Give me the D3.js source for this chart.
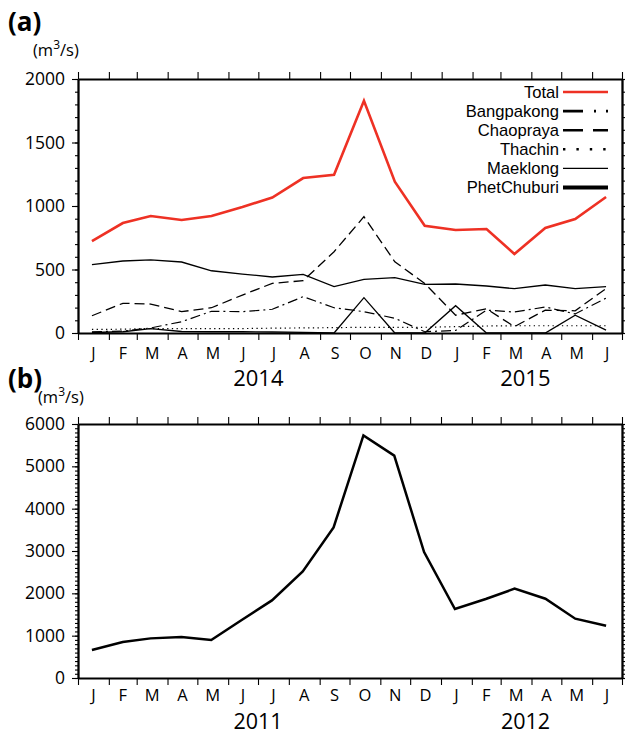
<!DOCTYPE html>
<html>
<head>
<meta charset="utf-8">
<script src="https://cdn.jsdelivr.net/npm/d3@7/dist/d3.min.js"></script>
<style>
body { margin: 0; background: #fff; }
svg { display: block; font-family: "Open Sans", sans-serif; }
</style>
</head>
<body>
<svg id="fig" width="625" height="734"></svg>
<script>
'use strict';

// panel (a): monthly discharge by river, Jan 2014 - Jun 2015 (m3/s)
var monthsA = ['2014-01','2014-02','2014-03','2014-04','2014-05','2014-06','2014-07','2014-08','2014-09',
               '2014-10','2014-11','2014-12','2015-01','2015-02','2015-03','2015-04','2015-05','2015-06'];
var total       = [724, 866, 921, 890, 921, 992, 1067, 1220, 1246, 1829, 1191, 845, 811, 819, 622, 827, 898, 1071];
var bangpakong  = [10, 15, 40, 89, 171, 168, 187, 286, 199, 168, 116, 10, 20, 180, 165, 205, 150, 275];
var chaopraya   = [136, 234, 228, 168, 199, 299, 391, 412, 640, 916, 561, 390, 140, 190, 50, 180, 175, 350];
var thachin     = [28, 30, 35, 35, 35, 35, 38, 40, 42, 45, 45, 45, 50, 55, 57, 57, 57, 57];
var maeklong    = [538, 567, 575, 559, 490, 464, 441, 462, 365, 423, 436, 383, 386, 370, 349, 378, 349, 365];
var phetchuburi = [4, 10, 35, 12, 10, 10, 8, 5, 0, 278, 0, 0, 215, 0, 0, 0, 140, 22];
var yearsA      = [['2014', '2014-07-01'], ['2015', '2015-03-26']];

// panel (b): Chaopraya discharge, Jan 2011 - Jun 2012 (m3/s)
var monthsB  = ['2011-01','2011-02','2011-03','2011-04','2011-05','2011-06','2011-07','2011-08','2011-09',
                '2011-10','2011-11','2011-12','2012-01','2012-02','2012-03','2012-04','2012-05','2012-06'];
var flow2011 = [661, 850, 936, 968, 898, 1377, 1833, 2518, 3558, 5731, 5252, 2976, 1630, 1866, 2110, 1873, 1401, 1236];
var yearsB   = [['2011', '2011-07-01'], ['2012', '2012-03-26']];

var seriesNames = ['Total', 'Bangpakong', 'Chaopraya', 'Thachin', 'Maeklong', 'PhetChuburi'];
var seriesA = [total, bangpakong, chaopraya, thachin, maeklong, phetchuburi];

// line looks: in the plot, and in the legend swatch
var styles = {
    Total:       { color: '#ee3124', width: 2.6, dash: null,        lw: 2.6, ldash: null },
    Bangpakong:  { color: '#000',    width: 1.2, dash: '10,4,2,4',  lw: 2.6, ldash: '20,11,2,10,2,10' },
    Chaopraya:   { color: '#000',    width: 1.3, dash: '10,5',      lw: 2.6, ldash: '20,10' },
    Thachin:     { color: '#000',    width: 1.2, dash: '1.3,3.4',   lw: 2.4, ldash: '2.4,11' },
    Maeklong:    { color: '#000',    width: 1.3, dash: null,        lw: 1.3, ldash: null },
    PhetChuburi: { color: '#000',    width: 1.3, dash: null,        lw: 4.2, ldash: null }
};

var parseMonth = d3.utcParse('%Y-%m');
var parseDay = d3.utcParse('%Y-%m-%d');
function midMonth(s) { return d3.utcDay.offset(parseMonth(s), 14); }

function panel() {
    var top = 0, bottom = 0, yMax = 0, yMajor = 500, monthSize = 16, yearSize = 22,
        monthY = 26, yearY = 53, years = [];

    function display(selection) {
        selection.each(function (data) {
            var g = d3.select(this);
            var first = parseMonth(data.months[0]);
            var last = d3.utcMonth.offset(parseMonth(data.months[data.months.length - 1]), 1);
            var x = d3.scaleUtc().domain([first, last]).range([78, 622]);
            var y = d3.scaleLinear().domain([0, yMax]).range([bottom, top]);
            var monthTicks = d3.utcMonth.range(first, d3.utcDay.offset(last, 1));
            var major = d3.range(0, yMax + 1, yMajor);
            var minor = d3.range(0, yMax + 1, 100);

            function frame(sel) {
                sel.selectAll('.domain').attr('stroke-width', 1.8);
                sel.selectAll('.tick line').attr('stroke-width', 1.1);
                sel.selectAll('.tick text').attr('fill', '#000')
                    .style('font-size', '17.5px').style('font-family', '"Open Sans", sans-serif');
            }

            g.append('g').attr('transform', 'translate(0,' + bottom + ')')
                .call(d3.axisBottom(x).tickValues(monthTicks).tickFormat('').tickSize(7).tickSizeOuter(0))
                .call(frame);
            g.append('g').attr('transform', 'translate(0,' + top + ')')
                .call(d3.axisTop(x).tickValues(monthTicks).tickFormat('').tickSize(7).tickSizeOuter(0))
                .call(frame);
            g.append('g').attr('transform', 'translate(78,0)')
                .call(d3.axisLeft(y).tickValues(minor).tickFormat('').tickSize(3).tickSizeOuter(0))
                .call(frame);
            g.append('g').attr('transform', 'translate(78,0)')
                .call(d3.axisLeft(y).tickValues(major).tickFormat(d3.format('d'))
                    .tickSize(6).tickPadding(7).tickSizeOuter(0))
                .call(frame);
            g.append('g').attr('transform', 'translate(622,0)')
                .call(d3.axisRight(y).tickValues(minor).tickFormat('').tickSize(3).tickSizeOuter(0))
                .call(frame);
            g.append('g').attr('transform', 'translate(622,0)')
                .call(d3.axisRight(y).tickValues(major).tickFormat('').tickSize(6).tickSizeOuter(0))
                .call(frame);

            // month initials centred in each month
            g.append('g').selectAll('text')
                .data(data.months)
                .enter().append('text')
                .attr('x', function (m) {
                    var d = parseMonth(m);
                    return (x(d) + x(d3.utcMonth.offset(d, 1))) / 2;
                })
                .attr('y', bottom + monthY)
                .attr('text-anchor', 'middle')
                .style('font-size', monthSize + 'px')
                .text(function (m) { return d3.utcFormat('%b')(parseMonth(m)).charAt(0); });

            g.append('g').selectAll('text')
                .data(years)
                .enter().append('text')
                .attr('x', function (d) { return x(parseDay(d[1])); })
                .attr('y', bottom + yearY)
                .attr('text-anchor', 'middle')
                .style('font-size', yearSize + 'px')
                .text(function (d) { return d[0]; });

            var line = d3.line()
                .x(function (v, i) { return x(midMonth(data.months[i])); })
                .y(function (v) { return y(v); });

            g.append('g').selectAll('path')
                .data(data.series.slice().reverse())
                .enter().append('path')
                .attr('d', function (s) { return line(s.values); })
                .attr('fill', 'none')
                .attr('stroke', function (s) { return s.color; })
                .attr('stroke-width', function (s) { return s.width; })
                .attr('stroke-dasharray', function (s) { return s.dash; });
        });
    }

    display.top = function (v) { top = v; return display; };
    display.bottom = function (v) { bottom = v; return display; };
    display.yMax = function (v) { yMax = v; return display; };
    display.yMajor = function (v) { yMajor = v; return display; };
    display.years = function (v) { years = v; return display; };
    display.monthSize = function (v) { monthSize = v; return display; };
    display.yearSize = function (v) { yearSize = v; return display; };
    display.monthY = function (v) { monthY = v; return display; };
    display.yearY = function (v) { yearY = v; return display; };

    return display;
}

function legend() {
    function display(selection) {
        selection.each(function (names) {
            var rows = d3.select(this).selectAll('g')
                .data(names)
                .enter().append('g')
                .attr('transform', function (n, i) { return 'translate(0,' + (92 + i * 19.1) + ')'; });

            // tighter line metrics than Open Sans so the rows don't collide
            rows.append('text')
                .attr('x', 559)
                .attr('dy', '0.36em')
                .attr('text-anchor', 'end')
                .style('font-family', '"Liberation Sans", Arial, sans-serif')
                .style('font-size', '16.6px')
                .text(function (n) { return n; });

            rows.append('line')
                .attr('x1', 563).attr('x2', 608)
                .attr('stroke', function (n) { return styles[n].color; })
                .attr('stroke-width', function (n) { return styles[n].lw; })
                .attr('stroke-dasharray', function (n) { return styles[n].ldash; });
        });
    }
    return display;
}

var svg = d3.select('#fig');

var dataA = {
    months: monthsA,
    series: seriesNames.map(function (n, i) {
        var st = styles[n];
        return { values: seriesA[i], color: st.color, width: st.width, dash: st.dash };
    })
};
var dataB = {
    months: monthsB,
    series: [{ values: flow2011, color: '#000', width: 2.5, dash: null }]
};

svg.append('g').datum(dataA)
    .call(panel().top(79).bottom(333).yMax(2000).yMajor(500).years(yearsA)
        .monthSize(16).yearSize(22).monthY(26).yearY(53));

svg.append('g').datum(dataB)
    .call(panel().top(424).bottom(678).yMax(6000).yMajor(1000).years(yearsB)
        .monthSize(16.5).yearSize(21.5).monthY(23).yearY(51));

svg.append('g').datum(seriesNames).call(legend());

// panel letters and units
svg.append('text').attr('x', 8).attr('y', 31).style('font-size', '26px').style('font-weight', 'bold').text('(a)');
svg.append('text').attr('x', 8).attr('y', 388).style('font-size', '26px').style('font-weight', 'bold').text('(b)');

[[33, 56], [38, 403]].forEach(function (p) {
    var t = svg.append('text').attr('x', p[0]).attr('y', p[1]).style('font-size', '16.5px');
    t.append('tspan').text('(m');
    t.append('tspan').attr('dy', -7).style('font-size', '12px').text('3');
    t.append('tspan').attr('dy', 7).text('/s)');
});
</script>
</body>
</html>
